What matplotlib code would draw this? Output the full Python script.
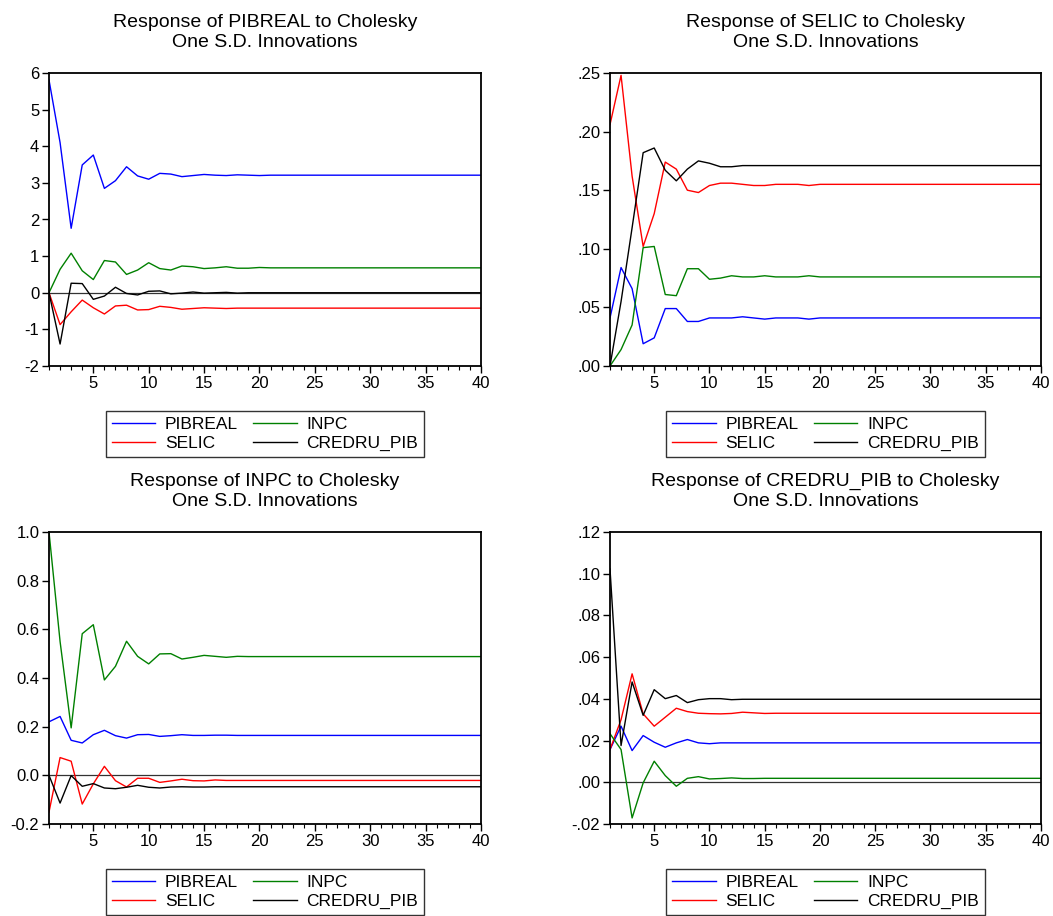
import numpy as np
import matplotlib
matplotlib.use("Agg")
import matplotlib.pyplot as plt
from matplotlib.lines import Line2D
from matplotlib.ticker import MultipleLocator, FixedLocator

plt.rcParams["font.family"] = ["Liberation Sans", "DejaVu Sans"]

# Impulse responses, periods 1..40
periods = list(range(1, 41))
shock_names = ["PIBREAL", "SELIC", "INPC", "CREDRU_PIB"]

# Response of PIBREAL
pib_to_pib = [5.81, 4.10, 1.76, 3.49, 3.76, 2.85, 3.06, 3.44, 3.19, 3.10,
              3.26, 3.24, 3.17, 3.20, 3.23, 3.21, 3.20, 3.22, 3.21, 3.20,
              3.21, 3.21, 3.21, 3.21, 3.21, 3.21, 3.21, 3.21, 3.21, 3.21,
              3.21, 3.21, 3.21, 3.21, 3.21, 3.21, 3.21, 3.21, 3.21, 3.21]
pib_to_selic = [0.00, -0.87, -0.52, -0.20, -0.41, -0.58, -0.36, -0.34, -0.47, -0.46,
                -0.37, -0.40, -0.45, -0.43, -0.41, -0.42, -0.43, -0.42, -0.42, -0.42,
                -0.42, -0.42, -0.42, -0.42, -0.42, -0.42, -0.42, -0.42, -0.42, -0.42,
                -0.42, -0.42, -0.42, -0.42, -0.42, -0.42, -0.42, -0.42, -0.42, -0.42]
pib_to_inpc = [0.00, 0.64, 1.08, 0.60, 0.36, 0.88, 0.84, 0.50, 0.62, 0.82,
               0.66, 0.62, 0.73, 0.71, 0.66, 0.68, 0.71, 0.67, 0.67, 0.69,
               0.68, 0.68, 0.68, 0.68, 0.68, 0.68, 0.68, 0.68, 0.68, 0.68,
               0.68, 0.68, 0.68, 0.68, 0.68, 0.68, 0.68, 0.68, 0.68, 0.68]
pib_to_cred = [0.00, -1.40, 0.26, 0.25, -0.18, -0.09, 0.15, -0.02, -0.06, 0.04,
               0.05, -0.03, -0.01, 0.02, -0.01, 0.00, 0.01, -0.01, 0.00, 0.00,
               0.00, 0.00, 0.00, 0.00, 0.00, 0.00, 0.00, 0.00, 0.00, 0.00,
               0.00, 0.00, 0.00, 0.00, 0.00, 0.00, 0.00, 0.00, 0.00, 0.00]

# Response of SELIC
selic_to_pib = [0.041, 0.084, 0.066, 0.019, 0.024, 0.049, 0.049, 0.038, 0.038, 0.041,
                0.041, 0.041, 0.042, 0.041, 0.040, 0.041, 0.041, 0.041, 0.040, 0.041,
                0.041, 0.041, 0.041, 0.041, 0.041, 0.041, 0.041, 0.041, 0.041, 0.041,
                0.041, 0.041, 0.041, 0.041, 0.041, 0.041, 0.041, 0.041, 0.041, 0.041]
selic_to_selic = [0.206, 0.248, 0.162, 0.102, 0.130, 0.174, 0.168, 0.150, 0.148, 0.154,
                  0.156, 0.156, 0.155, 0.154, 0.154, 0.155, 0.155, 0.155, 0.154, 0.155,
                  0.155, 0.155, 0.155, 0.155, 0.155, 0.155, 0.155, 0.155, 0.155, 0.155,
                  0.155, 0.155, 0.155, 0.155, 0.155, 0.155, 0.155, 0.155, 0.155, 0.155]
selic_to_inpc = [0.000, 0.014, 0.035, 0.101, 0.102, 0.061, 0.060, 0.083, 0.083, 0.074,
                 0.075, 0.077, 0.076, 0.076, 0.077, 0.076, 0.076, 0.076, 0.077, 0.076,
                 0.076, 0.076, 0.076, 0.076, 0.076, 0.076, 0.076, 0.076, 0.076, 0.076,
                 0.076, 0.076, 0.076, 0.076, 0.076, 0.076, 0.076, 0.076, 0.076, 0.076]
selic_to_cred = [0.000, 0.055, 0.118, 0.182, 0.186, 0.167, 0.158, 0.168, 0.175, 0.173,
                 0.170, 0.170, 0.171, 0.171, 0.171, 0.171, 0.171, 0.171, 0.171, 0.171,
                 0.171, 0.171, 0.171, 0.171, 0.171, 0.171, 0.171, 0.171, 0.171, 0.171,
                 0.171, 0.171, 0.171, 0.171, 0.171, 0.171, 0.171, 0.171, 0.171, 0.171]

# Response of INPC
inpc_to_pib = [0.220, 0.242, 0.144, 0.133, 0.167, 0.185, 0.163, 0.153, 0.167, 0.168,
               0.160, 0.163, 0.167, 0.164, 0.164, 0.165, 0.165, 0.164, 0.164, 0.164,
               0.164, 0.164, 0.164, 0.164, 0.164, 0.164, 0.164, 0.164, 0.164, 0.164,
               0.164, 0.164, 0.164, 0.164, 0.164, 0.164, 0.164, 0.164, 0.164, 0.164]
inpc_to_selic = [-0.151, 0.073, 0.058, -0.118, -0.035, 0.037, -0.022, -0.048, -0.012, -0.012,
                 -0.029, -0.023, -0.016, -0.022, -0.023, -0.019, -0.021, -0.021, -0.021, -0.021,
                 -0.021, -0.021, -0.021, -0.021, -0.021, -0.021, -0.021, -0.021, -0.021, -0.021,
                 -0.021, -0.021, -0.021, -0.021, -0.021, -0.021, -0.021, -0.021, -0.021, -0.021]
inpc_to_inpc = [1.000, 0.550, 0.195, 0.582, 0.619, 0.392, 0.448, 0.551, 0.489, 0.458,
                0.499, 0.500, 0.478, 0.485, 0.493, 0.489, 0.485, 0.489, 0.488, 0.488,
                0.488, 0.488, 0.488, 0.488, 0.488, 0.488, 0.488, 0.488, 0.488, 0.488,
                0.488, 0.488, 0.488, 0.488, 0.488, 0.488, 0.488, 0.488, 0.488, 0.488]
inpc_to_cred = [0.000, -0.114, -0.001, -0.045, -0.034, -0.052, -0.055, -0.049, -0.041, -0.049,
                -0.052, -0.048, -0.047, -0.048, -0.048, -0.047, -0.047, -0.047, -0.047, -0.047,
                -0.047, -0.047, -0.047, -0.047, -0.047, -0.047, -0.047, -0.047, -0.047, -0.047,
                -0.047, -0.047, -0.047, -0.047, -0.047, -0.047, -0.047, -0.047, -0.047, -0.047]

# Response of CREDRU_PIB
cred_to_pib = [0.0157, 0.0269, 0.0152, 0.0224, 0.0192, 0.0168, 0.0189, 0.0205, 0.0189, 0.0185,
               0.0189, 0.0189, 0.0189, 0.0189, 0.0189, 0.0189, 0.0189, 0.0189, 0.0189, 0.0189,
               0.0189, 0.0189, 0.0189, 0.0189, 0.0189, 0.0189, 0.0189, 0.0189, 0.0189, 0.0189,
               0.0189, 0.0189, 0.0189, 0.0189, 0.0189, 0.0189, 0.0189, 0.0189, 0.0189, 0.0189]
cred_to_selic = [0.0157, 0.0300, 0.0520, 0.0328, 0.0269, 0.0312, 0.0355, 0.0339, 0.0331, 0.0329,
                 0.0328, 0.0330, 0.0336, 0.0333, 0.0330, 0.0331, 0.0331, 0.0331, 0.0331, 0.0331,
                 0.0331, 0.0331, 0.0331, 0.0331, 0.0331, 0.0331, 0.0331, 0.0331, 0.0331, 0.0331,
                 0.0331, 0.0331, 0.0331, 0.0331, 0.0331, 0.0331, 0.0331, 0.0331, 0.0331, 0.0331]
cred_to_inpc = [0.0233, 0.0157, -0.0171, -0.0003, 0.0101, 0.0032, -0.0019, 0.0019, 0.0027, 0.0016,
                0.0018, 0.0021, 0.0018, 0.0018, 0.0019, 0.0019, 0.0019, 0.0019, 0.0019, 0.0019,
                0.0019, 0.0019, 0.0019, 0.0019, 0.0019, 0.0019, 0.0019, 0.0019, 0.0019, 0.0019,
                0.0019, 0.0019, 0.0019, 0.0019, 0.0019, 0.0019, 0.0019, 0.0019, 0.0019, 0.0019]
cred_to_cred = [0.1023, 0.0176, 0.0481, 0.0321, 0.0444, 0.0401, 0.0416, 0.0382, 0.0396, 0.0401,
                0.0401, 0.0396, 0.0398, 0.0398, 0.0398, 0.0398, 0.0398, 0.0398, 0.0398, 0.0398,
                0.0398, 0.0398, 0.0398, 0.0398, 0.0398, 0.0398, 0.0398, 0.0398, 0.0398, 0.0398,
                0.0398, 0.0398, 0.0398, 0.0398, 0.0398, 0.0398, 0.0398, 0.0398, 0.0398, 0.0398]

# y ticks and labels per panel
pib_yticks = [-2, -1, 0, 1, 2, 3, 4, 5, 6]
pib_ylabels = ["-2", "-1", "0", "1", "2", "3", "4", "5", "6"]
selic_yticks = [0.00, 0.05, 0.10, 0.15, 0.20, 0.25]
selic_ylabels = [".00", ".05", ".10", ".15", ".20", ".25"]
inpc_yticks = [-0.2, 0.0, 0.2, 0.4, 0.6, 0.8, 1.0]
inpc_ylabels = ["-0.2", "0.0", "0.2", "0.4", "0.6", "0.8", "1.0"]
cred_yticks = [-0.02, 0.00, 0.02, 0.04, 0.06, 0.08, 0.10, 0.12]
cred_ylabels = ["-.02", ".00", ".02", ".04", ".06", ".08", ".10", ".12"]
xticks = [5, 10, 15, 20, 25, 30, 35, 40]

colors = {"PIBREAL": "#0000ff", "SELIC": "#ff0000", "INPC": "#008000", "CREDRU_PIB": "#000000"}

W, H = 1053, 916
fig = plt.figure(figsize=(W / 100, H / 100), dpi=100)


def px_axes(left, top, right, bottom):
    return fig.add_axes([left / W, 1 - bottom / H, (right - left) / W, (bottom - top) / H])


panels = [
    ("PIBREAL", (49, 73, 481, 366), [pib_to_pib, pib_to_selic, pib_to_inpc, pib_to_cred],
     pib_yticks, pib_ylabels),
    ("SELIC", (610, 73, 1041, 366), [selic_to_pib, selic_to_selic, selic_to_inpc, selic_to_cred],
     selic_yticks, selic_ylabels),
    ("INPC", (49, 532, 481, 824), [inpc_to_pib, inpc_to_selic, inpc_to_inpc, inpc_to_cred],
     inpc_yticks, inpc_ylabels),
    ("CREDRU_PIB", (610, 532, 1041, 824), [cred_to_pib, cred_to_selic, cred_to_inpc, cred_to_cred],
     cred_yticks, cred_ylabels),
]

for name, box, series, yt, yl in panels:
    ax = px_axes(*box)
    ax.axhline(0, color="#333333", linewidth=0.9, zorder=1)
    for shock, vals in zip(shock_names, series):
        ax.plot(periods, vals, color=colors[shock], linewidth=1.0, zorder=2)
    ax.set_xlim(1, 40)
    ax.set_ylim(yt[0], yt[-1])
    ax.set_yticks(yt)
    ax.set_yticklabels(yl)
    ax.xaxis.set_major_locator(FixedLocator(xticks))
    ax.xaxis.set_minor_locator(MultipleLocator(1))
    ax.tick_params(axis="both", which="major", direction="out", length=5, width=1,
                   labelsize=12, top=False, right=False, pad=2)
    ax.tick_params(axis="x", which="minor", direction="out", length=3, width=0.8, top=False)
    for s in ax.spines.values():
        s.set_linewidth(1.3)
    ax.set_title(f"Response of {name} to Cholesky\nOne S.D. Innovations",
                 fontsize=14, pad=19, linespacing=1.2)

    handles = [Line2D([], [], color=colors[s], linewidth=1.0) for s in shock_names]
    cx = (box[0] + box[2]) / 2
    leg = fig.legend(handles, shock_names, ncol=2, loc="center",
                     bbox_to_anchor=(cx / W, 1 - (box[3] + 68) / H),
                     fontsize=12.5, frameon=True, fancybox=False, edgecolor="black",
                     handlelength=2.5, columnspacing=0.9, handletextpad=0.55,
                     labelspacing=0.22, borderpad=0.35)
    leg.get_frame().set_linewidth(1.0)

fig.savefig("out.png", dpi=100)
